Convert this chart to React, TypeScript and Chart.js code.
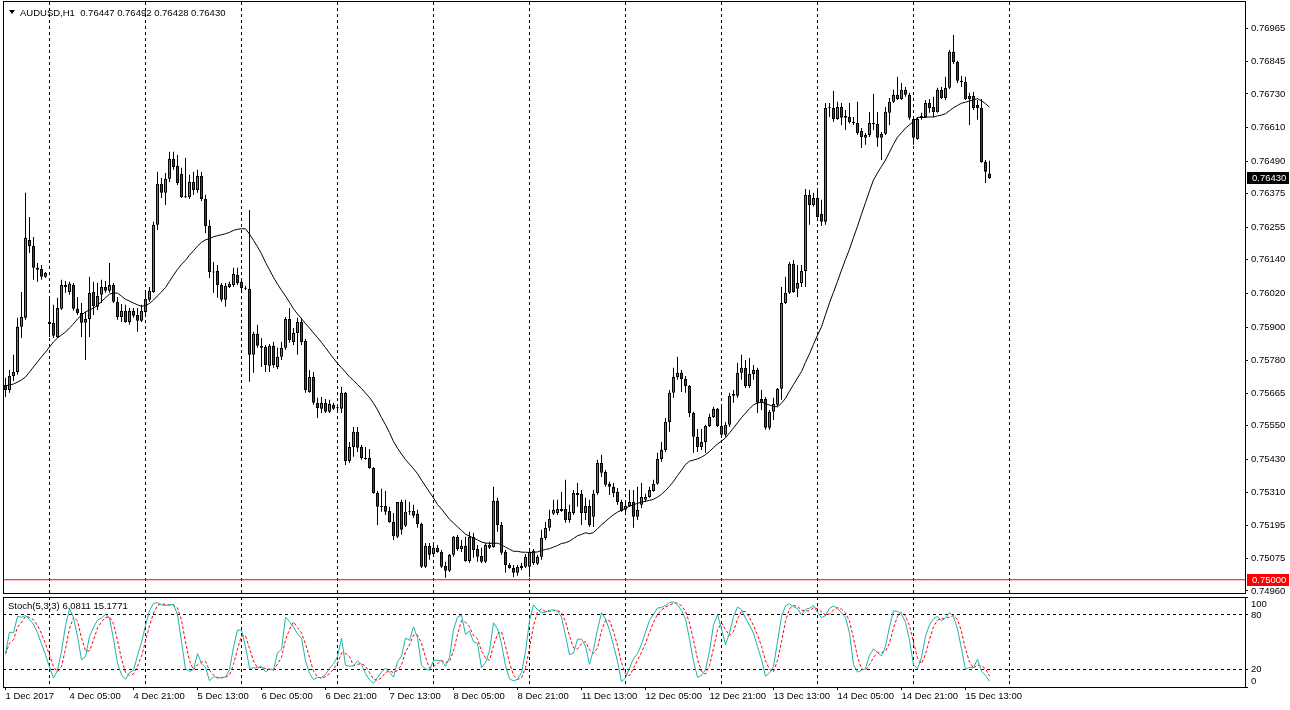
import React, { useEffect, useRef } from "react";
import { Chart, registerables } from "chart.js";
Chart.register(...registerables);

// ---- header texts ----
const symbolTitle = "AUDUSD,H1";
const headerValues = ["0.76447", "0.76492", "0.76428", "0.76430"];
const stochTitle = "Stoch(5,3,3)";
const stochHeaderValues = ["6.0811", "15.1771"];

// ---- hourly OHLC (bar 0 = 1 Dec 2017 13:00) ----
const open = [
  0.75694,0.75676,0.75726,0.75740,0.75901,0.75933,0.76210,0.76189,0.76111,0.76107,
  0.76079,0.75918,0.75915,0.75865,0.75965,0.76050,0.76025,0.76050,0.75965,0.75950,
  0.75915,0.75929,0.76025,0.75972,0.76015,0.76043,0.76029,0.76050,0.75990,0.75936,
  0.75958,0.75918,0.75958,0.75943,0.75922,0.75954,0.75997,0.76025,0.76264,0.76410,
  0.76378,0.76428,0.76499,0.76474,0.76445,0.76363,0.76363,0.76417,0.76388,0.76438,
  0.76356,0.76260,0.76096,0.76100,0.76050,0.75997,0.76043,0.76050,0.76086,0.76061,
  0.76039,0.76036,0.75801,0.75876,0.75833,0.75829,0.75762,0.75833,0.75758,0.75794,
  0.75826,0.75929,0.75847,0.75879,0.75918,0.75851,0.75669,0.75722,0.75630,0.75609,
  0.75630,0.75598,0.75623,0.75612,0.75609,0.75666,0.75423,0.75473,0.75527,0.75473,
  0.75434,0.75434,0.75398,0.75309,0.75260,0.75263,0.75245,0.75206,0.75153,0.75277,
  0.75192,0.75242,0.75245,0.75235,0.75199,0.75046,0.75121,0.75092,0.75114,0.75099,
  0.75050,0.75032,0.75089,0.75153,0.75110,0.75121,0.75067,0.75153,0.75110,0.75085,
  0.75064,0.75114,0.75117,0.75281,0.75195,0.75099,0.75053,0.75042,0.75025,0.75042,
  0.75046,0.75046,0.75060,0.75057,0.75082,0.75149,0.75185,0.75235,0.75238,0.75252,
  0.75252,0.75213,0.75238,0.75309,0.75306,0.75238,0.75263,0.75224,0.75309,0.75416,
  0.75384,0.75342,0.75331,0.75313,0.75277,0.75249,0.75263,0.75277,0.75224,0.75267,
  0.75285,0.75295,0.75316,0.75342,0.75430,0.75462,0.75562,0.75666,0.75722,0.75737,
  0.75715,0.75690,0.75594,0.75509,0.75473,0.75491,0.75548,0.75580,0.75609,0.75548,
  0.75516,0.75552,0.75662,0.75655,0.75737,0.75755,0.75690,0.75733,0.75747,0.75644,
  0.75644,0.75541,0.75598,0.75623,0.75680,0.75986,0.76022,0.76125,0.76036,0.76057,
  0.76100,0.76371,0.76335,0.76360,0.76303,0.76275,0.76680,0.76680,0.76641,0.76684,
  0.76652,0.76648,0.76631,0.76627,0.76598,0.76574,0.76584,0.76627,0.76623,0.76574,
  0.76588,0.76663,0.76702,0.76727,0.76712,0.76745,0.76727,0.76641,0.76570,0.76645,
  0.76648,0.76698,0.76684,0.76666,0.76745,0.76716,0.76752,0.76880,0.76844,0.76777,
  0.76773,0.76712,0.76723,0.76691,0.76680,0.76488,0.76447,
];
const high = [
  0.75719,0.75747,0.75801,0.75933,0.76025,0.76378,0.76292,0.76221,0.76128,0.76121,
  0.76096,0.76004,0.75979,0.76004,0.76068,0.76064,0.76061,0.76057,0.76007,0.75986,
  0.75954,0.76079,0.76061,0.76057,0.76068,0.76064,0.76128,0.76057,0.76007,0.75982,
  0.75979,0.75968,0.75968,0.75968,0.75979,0.76025,0.76043,0.76275,0.76453,0.76431,
  0.76449,0.76524,0.76524,0.76513,0.76467,0.76502,0.76442,0.76453,0.76460,0.76453,
  0.76371,0.76282,0.76132,0.76121,0.76057,0.76057,0.76061,0.76111,0.76111,0.76075,
  0.76047,0.76317,0.75883,0.75908,0.75861,0.75836,0.75840,0.75847,0.75826,0.75847,
  0.75936,0.75968,0.75897,0.75933,0.75933,0.75858,0.75747,0.75740,0.75648,0.75651,
  0.75644,0.75641,0.75630,0.75619,0.75687,0.75669,0.75491,0.75544,0.75544,0.75480,
  0.75473,0.75466,0.75402,0.75316,0.75324,0.75316,0.75260,0.75238,0.75277,0.75285,
  0.75285,0.75277,0.75267,0.75249,0.75203,0.75131,0.75131,0.75131,0.75124,0.75106,
  0.75064,0.75092,0.75156,0.75160,0.75142,0.75153,0.75171,0.75167,0.75124,0.75114,
  0.75131,0.75135,0.75331,0.75292,0.75206,0.75106,0.75060,0.75053,0.75053,0.75060,
  0.75092,0.75106,0.75110,0.75089,0.75178,0.75206,0.75249,0.75285,0.75285,0.75313,
  0.75356,0.75267,0.75320,0.75345,0.75320,0.75292,0.75285,0.75320,0.75427,0.75445,
  0.75391,0.75349,0.75345,0.75327,0.75285,0.75274,0.75320,0.75320,0.75331,0.75345,
  0.75306,0.75331,0.75356,0.75452,0.75491,0.75576,0.75676,0.75755,0.75794,0.75747,
  0.75726,0.75694,0.75598,0.75537,0.75537,0.75552,0.75591,0.75616,0.75612,0.75616,
  0.75562,0.75666,0.75676,0.75772,0.75801,0.75783,0.75790,0.75765,0.75755,0.75676,
  0.75651,0.75605,0.75648,0.75683,0.76043,0.76079,0.76132,0.76139,0.76121,0.76121,
  0.76392,0.76388,0.76378,0.76388,0.76353,0.76698,0.76698,0.76741,0.76702,0.76698,
  0.76673,0.76698,0.76648,0.76702,0.76609,0.76591,0.76666,0.76730,0.76666,0.76595,
  0.76684,0.76716,0.76745,0.76791,0.76769,0.76755,0.76734,0.76648,0.76648,0.76663,
  0.76709,0.76712,0.76720,0.76752,0.76755,0.76791,0.76887,0.76940,0.76848,0.76794,
  0.76791,0.76734,0.76737,0.76709,0.76712,0.76495,0.76492,
];
const low = [
  0.75651,0.75666,0.75708,0.75730,0.75861,0.75926,0.76164,0.76068,0.76061,0.76068,
  0.76075,0.75865,0.75861,0.75861,0.75961,0.76022,0.76015,0.75958,0.75943,0.75865,
  0.75783,0.75865,0.75943,0.75961,0.75986,0.76022,0.76022,0.75986,0.75926,0.75918,
  0.75915,0.75908,0.75933,0.75883,0.75918,0.75943,0.75990,0.76022,0.76246,0.76360,
  0.76335,0.76417,0.76460,0.76406,0.76360,0.76360,0.76356,0.76371,0.76378,0.76349,
  0.76235,0.76075,0.76022,0.76004,0.75990,0.75972,0.76039,0.76043,0.76050,0.76025,
  0.76032,0.75705,0.75737,0.75826,0.75758,0.75740,0.75740,0.75755,0.75751,0.75783,
  0.75819,0.75844,0.75836,0.75801,0.75836,0.75666,0.75666,0.75623,0.75576,0.75594,
  0.75594,0.75594,0.75605,0.75594,0.75594,0.75409,0.75416,0.75438,0.75455,0.75427,
  0.75427,0.75395,0.75306,0.75195,0.75242,0.75231,0.75203,0.75142,0.75149,0.75160,
  0.75188,0.75231,0.75220,0.75185,0.75042,0.75042,0.75071,0.75082,0.75096,0.75042,
  0.75007,0.75028,0.75082,0.75103,0.75099,0.75064,0.75060,0.75078,0.75064,0.75060,
  0.75060,0.75110,0.75114,0.75171,0.75089,0.75025,0.75039,0.75010,0.75014,0.75035,
  0.75042,0.75010,0.75053,0.75053,0.75071,0.75142,0.75174,0.75231,0.75231,0.75242,
  0.75203,0.75203,0.75231,0.75260,0.75195,0.75213,0.75188,0.75188,0.75302,0.75366,
  0.75331,0.75302,0.75295,0.75267,0.75242,0.75231,0.75260,0.75185,0.75213,0.75256,
  0.75277,0.75292,0.75313,0.75338,0.75420,0.75455,0.75527,0.75648,0.75712,0.75669,
  0.75666,0.75580,0.75452,0.75455,0.75462,0.75452,0.75544,0.75576,0.75544,0.75505,
  0.75509,0.75544,0.75630,0.75648,0.75712,0.75683,0.75683,0.75712,0.75594,0.75605,
  0.75534,0.75534,0.75569,0.75616,0.75641,0.75982,0.76018,0.76022,0.76007,0.76043,
  0.76043,0.76264,0.76328,0.76289,0.76260,0.76264,0.76648,0.76631,0.76638,0.76620,
  0.76602,0.76625,0.76620,0.76584,0.76538,0.76549,0.76577,0.76602,0.76542,0.76495,
  0.76584,0.76620,0.76698,0.76709,0.76709,0.76720,0.76638,0.76549,0.76567,0.76638,
  0.76645,0.76663,0.76648,0.76663,0.76712,0.76709,0.76748,0.76837,0.76769,0.76755,
  0.76709,0.76620,0.76673,0.76638,0.76485,0.76413,0.76428,
];
const close = [
  0.75676,0.75726,0.75740,0.75901,0.75936,0.76218,0.76189,0.76111,0.76104,0.76079,
  0.76093,0.75911,0.75869,0.75968,0.76050,0.76043,0.76054,0.75965,0.75950,0.75915,
  0.75929,0.76022,0.75975,0.76011,0.76043,0.76029,0.76050,0.75990,0.75936,0.75958,
  0.75918,0.75958,0.75940,0.75922,0.75958,0.76000,0.76029,0.76264,0.76410,0.76378,
  0.76428,0.76499,0.76470,0.76413,0.76363,0.76362,0.76417,0.76388,0.76438,0.76356,
  0.76260,0.76096,0.76094,0.76050,0.75997,0.76047,0.76054,0.76089,0.76057,0.76039,
  0.76036,0.75801,0.75876,0.75833,0.75826,0.75765,0.75833,0.75765,0.75794,0.75826,
  0.75929,0.75854,0.75879,0.75918,0.75847,0.75676,0.75722,0.75630,0.75612,0.75630,
  0.75598,0.75626,0.75609,0.75611,0.75666,0.75423,0.75473,0.75527,0.75470,0.75434,
  0.75430,0.75398,0.75309,0.75260,0.75259,0.75242,0.75206,0.75156,0.75277,0.75178,
  0.75242,0.75245,0.75228,0.75199,0.75046,0.75121,0.75089,0.75114,0.75099,0.75046,
  0.75032,0.75089,0.75153,0.75110,0.75121,0.75067,0.75153,0.75106,0.75082,0.75064,
  0.75124,0.75124,0.75281,0.75195,0.75096,0.75053,0.75042,0.75025,0.75046,0.75050,
  0.75082,0.75099,0.75103,0.75082,0.75149,0.75185,0.75217,0.75249,0.75252,0.75245,
  0.75213,0.75242,0.75309,0.75302,0.75238,0.75263,0.75195,0.75306,0.75416,0.75381,
  0.75338,0.75331,0.75309,0.75277,0.75245,0.75263,0.75277,0.75224,0.75249,0.75295,
  0.75295,0.75320,0.75342,0.75430,0.75462,0.75562,0.75666,0.75722,0.75737,0.75715,
  0.75690,0.75594,0.75509,0.75473,0.75491,0.75548,0.75580,0.75609,0.75548,0.75516,
  0.75552,0.75655,0.75655,0.75737,0.75755,0.75690,0.75733,0.75747,0.75630,0.75630,
  0.75541,0.75598,0.75626,0.75680,0.75986,0.76022,0.76125,0.76025,0.76057,0.76100,
  0.76371,0.76335,0.76360,0.76292,0.76275,0.76680,0.76679,0.76641,0.76684,0.76645,
  0.76645,0.76629,0.76627,0.76591,0.76577,0.76584,0.76627,0.76623,0.76574,0.76588,
  0.76666,0.76702,0.76727,0.76712,0.76745,0.76727,0.76645,0.76574,0.76641,0.76652,
  0.76698,0.76680,0.76666,0.76745,0.76716,0.76752,0.76880,0.76844,0.76777,0.76773,
  0.76712,0.76723,0.76680,0.76680,0.76488,0.76453,0.76430,
];

// moving average values for the first bars (before a full window exists)
const maLead = [
  0.75690,0.75694,0.75697,0.75704,0.75712,0.75722,0.75740,0.75758,0.75776,0.75794,
  0.75811,0.75829,0.75847,0.75861,0.75872,0.75882,0.75897,0.75911,0.75929,0.75943,
  0.75954,0.75961,0.75968,
];
const maPeriod = 24;

// axis ticks and labels
const priceTicks = [
  0.7496, 0.75075, 0.75195, 0.7531, 0.7543, 0.7555, 0.75665, 0.7578, 0.759,
  0.7602, 0.7614, 0.76255, 0.76375, 0.7649, 0.7661, 0.7673, 0.76845, 0.76965,
];
const daySeparators = [11, 35, 59, 83, 107, 131, 155, 179, 203, 227, 251];
const timeTickIndex = [0, 16, 32, 48, 64, 80, 96, 112, 128, 144, 160, 176, 192, 208, 224, 240];
const timeTickLabels = [
  "1 Dec 2017", "4 Dec 05:00", "4 Dec 21:00", "5 Dec 13:00", "6 Dec 05:00", "6 Dec 21:00",
  "7 Dec 13:00", "8 Dec 05:00", "8 Dec 21:00", "11 Dec 13:00", "12 Dec 05:00", "12 Dec 21:00",
  "13 Dec 13:00", "14 Dec 05:00", "14 Dec 21:00", "15 Dec 13:00",
];
const stochTicks = [0, 20, 80, 100];
const stochLevels = [20, 80];
const stochEdgeTicks = [0, 100];
const levelPrice = 0.75;

// ---- view ranges / styles ----
const X_MIN = -0.625;
const X_MAX = 309.875;
const Y_MIN = 0.749493;
const Y_MAX = 0.770576;
const S_MIN = 0;
const S_MAX = 100;
const FONT = "Liberation Sans";
const FSIZE = 9.5;
const BULL = "#00c800";
const BEAR = "#e00000";

// ---- derived indicator series ----
const ma = close.map((_, i) => {
  if (i < maLead.length) return maLead[i];
  const w = close.slice(i - maPeriod + 1, i + 1);
  return w.reduce((a, b) => a + b, 0) / w.length;
});
const stochMain = close.map((_, i) => {
  let num = 0;
  let den = 0;
  for (let j = Math.max(0, i - 2); j <= i; j++) {
    const s = Math.max(0, j - 4);
    const hh = Math.max(...high.slice(s, j + 1));
    const ll = Math.min(...low.slice(s, j + 1));
    num += close[j] - ll;
    den += hh - ll;
  }
  return den > 0 ? (100 * num) / den : 50;
});
const stochSignal = stochMain.map((_, i) => {
  const w = stochMain.slice(Math.max(0, i - 2), i + 1);
  return w.reduce((a, b) => a + b, 0) / w.length;
});

const fontSpec = `${FSIZE}px "${FONT}"`;

const noPadV = (s: any, w: number) => {
  s.width = w;
  s.paddingTop = 0;
  s.paddingBottom = 0;
};
const noPadH = (s: any, h: number) => {
  s.height = h;
  s.paddingLeft = 0;
  s.paddingRight = 0;
};

const mainOverlay = {
  id: "mainOverlay",
  afterDraw(chart: any) {
    const { ctx, chartArea } = chart;
    const y = chart.scales.y;
    ctx.save();
    ctx.strokeStyle = "#000";
    ctx.lineWidth = 1;
    ctx.strokeRect(chartArea.left + 0.5, chartArea.top - 0.5, chartArea.right - chartArea.left, chartArea.bottom - chartArea.top);
    ctx.fillStyle = "#000";
    ctx.beginPath();
    ctx.moveTo(9, 10);
    ctx.lineTo(15, 10);
    ctx.lineTo(12, 14);
    ctx.closePath();
    ctx.fill();
    ctx.font = fontSpec;
    ctx.textBaseline = "middle";
    ctx.textAlign = "left";
    ctx.fillText(`${symbolTitle}  ${headerValues.join(" ")}`, 20, 13);
    const boxes = [
      { v: close[close.length - 1], bg: "#000" },
      { v: levelPrice, bg: "#ff0000" },
    ];
    for (const b of boxes) {
      const py = Math.round(y.getPixelForValue(b.v));
      ctx.fillStyle = b.bg;
      ctx.fillRect(chartArea.right + 2, py - 6, chart.width - chartArea.right - 3, 12);
      ctx.fillStyle = "#fff";
      ctx.fillText(b.v.toFixed(5), chartArea.right + 7, py);
    }
    ctx.restore();
  },
};

const stochOverlay = {
  id: "stochOverlay",
  afterDraw(chart: any) {
    const { ctx, chartArea } = chart;
    const ys = chart.scales.y;
    ctx.save();
    ctx.strokeStyle = "#000";
    ctx.lineWidth = 1;
    ctx.strokeRect(chartArea.left + 0.5, chartArea.top + 0.5, chartArea.right - chartArea.left, chartArea.bottom - chartArea.top);
    ctx.fillStyle = "#000";
    ctx.font = fontSpec;
    ctx.textBaseline = "middle";
    ctx.textAlign = "left";
    ctx.fillText(`${stochTitle} ${stochHeaderValues.join(" ")}`, 8, 10);
    // edge level labels (100 / 0) are pulled inside the panel, as the terminal does
    for (const v of stochEdgeTicks) {
      const py = ys.getPixelForValue(v) + (v === S_MAX ? 7 : -6);
      ctx.fillText(String(v), chartArea.right + 6, py);
    }
    ctx.restore();
  },
};

export default function App() {
  const mainRef = useRef<HTMLCanvasElement>(null);
  const stochRef = useRef<HTMLCanvasElement>(null);

  useEffect(() => {
    document.body.style.margin = "0";
    const idx = close.map((_, i) => i);
    const bodies = idx.map((i) => ({ x: i, y: [open[i], close[i]] }));
    const wicks = idx.map((i) => ({ x: i, y: [low[i], high[i]] }));
    const bodyColors = idx.map((i) => (close[i] >= open[i] ? BULL : BEAR));

    const sepTicks = (s: any) => {
      s.ticks = daySeparators.map((v) => ({ value: v }));
    };

    const main = new Chart(mainRef.current as HTMLCanvasElement, {
      type: "bar",
      data: {
        datasets: [
          {
            type: "line",
            label: "MA",
            data: idx.map((i) => ({ x: i, y: ma[i] })),
            borderColor: "#000",
            borderWidth: 1,
            pointRadius: 0,
            tension: 0,
            order: 0,
          } as any,
          {
            type: "bar",
            label: "body",
            data: bodies,
            backgroundColor: bodyColors,
            borderColor: "#000",
            borderWidth: 1,
            borderSkipped: false,
            barThickness: 3,
            grouped: false,
            minBarLength: 1,
            inflateAmount: 0,
            order: 1,
          } as any,
          {
            type: "bar",
            label: "wick",
            data: wicks,
            backgroundColor: "#000",
            borderWidth: 0,
            barThickness: 1,
            grouped: false,
            inflateAmount: 0,
            order: 2,
          } as any,
          {
            type: "line",
            label: "level",
            data: [
              { x: X_MIN, y: levelPrice },
              { x: X_MAX, y: levelPrice },
            ],
            borderColor: "#ff0000",
            borderWidth: 1,
            pointRadius: 0,
            order: 3,
          } as any,
        ],
      },
      options: {
        responsive: false,
        animation: false,
        events: [],
        layout: { padding: { left: 3, top: 2, right: 0, bottom: 2 } },
        plugins: { legend: { display: false }, tooltip: { enabled: false } },
        scales: {
          x: {
            type: "linear",
            min: X_MIN,
            max: X_MAX,
            offset: false,
            afterBuildTicks: sepTicks,
            afterFit: (s: any) => noPadH(s, 0),
            ticks: { display: false },
            grid: { offset: false, color: "#000", lineWidth: 1, drawTicks: false, drawOnChartArea: true },
            border: { display: false, dash: [3, 3] },
          },
          y: {
            type: "linear",
            position: "right",
            min: Y_MIN,
            max: Y_MAX,
            afterBuildTicks: (s: any) => {
              s.ticks = priceTicks.map((v) => ({ value: v }));
            },
            afterFit: (s: any) => noPadV(s, 45),
            ticks: {
              autoSkip: false,
              padding: 3,
              color: "#000",
              font: { family: FONT, size: FSIZE },
              callback: (v: any) => Number(v).toFixed(5),
            },
            grid: { drawOnChartArea: false, drawTicks: true, tickLength: 3, color: "#000" },
            border: { display: false },
          },
        },
      } as any,
      plugins: [mainOverlay],
    });

    const stoch = new Chart(stochRef.current as HTMLCanvasElement, {
      type: "line",
      data: {
        datasets: [
          {
            label: "Main",
            data: idx.map((i) => ({ x: i, y: stochMain[i] })),
            borderColor: "#20B2AA",
            borderWidth: 1,
            pointRadius: 0,
            tension: 0,
          },
          {
            label: "Signal",
            data: idx.map((i) => ({ x: i, y: stochSignal[i] })),
            borderColor: "#ff0000",
            borderWidth: 1,
            borderDash: [3, 2],
            pointRadius: 0,
            tension: 0,
          },
        ],
      },
      options: {
        responsive: false,
        animation: false,
        events: [],
        layout: { padding: { left: 3, top: 1, right: 0, bottom: 0 } },
        plugins: { legend: { display: false }, tooltip: { enabled: false } },
        scales: {
          x: {
            type: "linear",
            position: "top",
            min: X_MIN,
            max: X_MAX,
            afterBuildTicks: sepTicks,
            afterFit: (s: any) => noPadH(s, 0),
            ticks: { display: false },
            grid: { offset: false, color: "#000", lineWidth: 1, drawTicks: false, drawOnChartArea: true },
            border: { display: false, dash: [3, 3] },
          },
          x2: {
            type: "linear",
            position: "bottom",
            min: X_MIN,
            max: X_MAX,
            afterBuildTicks: (s: any) => {
              s.ticks = timeTickIndex.map((v) => ({ value: v }));
            },
            afterFit: (s: any) => noPadH(s, 23),
            ticks: {
              autoSkip: false,
              maxRotation: 0,
              align: "start",
              padding: 1,
              color: "#000",
              font: { family: FONT, size: FSIZE },
              callback: (v: any) => {
                const k = timeTickIndex.indexOf(Number(v));
                return k >= 0 ? timeTickLabels[k] : "";
              },
            },
            grid: { offset: false, drawOnChartArea: false, drawTicks: true, tickLength: 3, color: "#000" },
            border: { display: false },
          },
          y: {
            type: "linear",
            position: "right",
            min: S_MIN,
            max: S_MAX,
            afterBuildTicks: (s: any) => {
              s.ticks = stochTicks.map((v) => ({ value: v }));
            },
            afterFit: (s: any) => noPadV(s, 45),
            ticks: {
              autoSkip: false,
              padding: 3,
              color: "#000",
              font: { family: FONT, size: FSIZE },
              callback: (v: any) => (stochLevels.includes(Number(v)) ? String(v) : ""),
            },
            grid: {
              drawOnChartArea: true,
              drawTicks: true,
              tickLength: 3,
              tickColor: "#000",
              color: (c: any) =>
                c.tick && stochLevels.includes(c.tick.value) ? "#000" : "rgba(0,0,0,0)",
            },
            border: { display: false, dash: [3, 3] },
          },
        },
      } as any,
      plugins: [stochOverlay],
    });

    return () => {
      main.destroy();
      stoch.destroy();
    };
  }, []);

  return (
    <div style={{ position: "relative", width: 1290, height: 710, background: "#fff", overflow: "hidden" }}>
      <style>{"body{margin:0;background:#fff}"}</style>
      <canvas ref={mainRef} width={1290} height={596} style={{ position: "absolute", left: 0, top: 0 }} />
      <canvas ref={stochRef} width={1290} height={114} style={{ position: "absolute", left: 0, top: 596 }} />
    </div>
  );
}
